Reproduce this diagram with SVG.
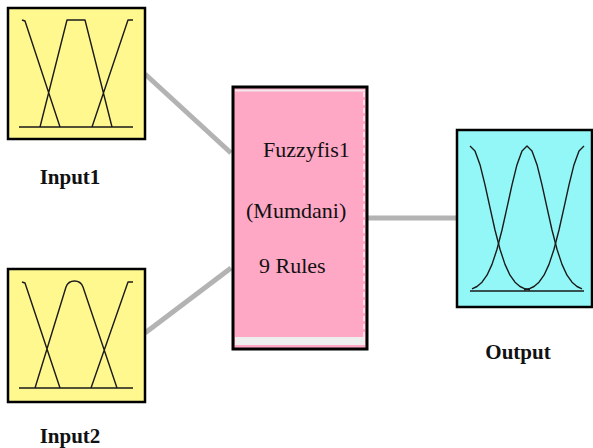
<svg xmlns="http://www.w3.org/2000/svg" width="593" height="448" viewBox="0 0 593 448">
<style>
.box{stroke:#000;stroke-width:2.5}
.mf{fill:none;stroke:#1a1a1a;stroke-width:1.4;stroke-linejoin:round}
.lbl{font-family:"Liberation Serif",serif;font-weight:bold;font-size:21px;fill:#111;text-anchor:middle}
.txt{font-family:"Liberation Serif",serif;font-size:22px;fill:#111}
.conn{stroke:#b3b3b3;stroke-width:5;fill:none}
</style>
<rect width="593" height="448" fill="#fff"/>
<g id="connectors">
<line class="conn" x1="145" y1="74" x2="231" y2="153"/>
<line class="conn" x1="145" y1="333" x2="231" y2="268"/>
<line class="conn" x1="368" y1="218" x2="457" y2="218"/>
</g>
<g id="input1">
<rect class="box" x="8" y="8" width="137" height="131" fill="#fff88f"/>
<path class="mf" d="M19,127 H133 M22,20 L25,21 L60,127 M40,127 L67,20 L85,20 L112,127 M92,127 L128,20 L133,20"/>
<text class="lbl" x="70" y="184">Input1</text>
</g>
<g id="input2">
<rect class="box" x="8" y="269" width="137" height="133" fill="#fff88f"/>
<path class="mf" d="M19,388 H133 M22,282 L25,283 L60,388 M35,388 L66,287 C69,279 80,279 83,287 L117,388 M91,388 L128,282 L133,282"/>
<text class="lbl" x="70" y="443">Input2</text>
</g>
<g id="fuzzyfis1">
<rect x="233" y="87" width="134" height="262" fill="#ffa8c6" stroke="#000" stroke-width="3"/>
<line x1="235" y1="90.5" x2="365" y2="90.5" stroke="#f2e6ea" stroke-width="2"/>
<rect x="235" y="337" width="130" height="8" fill="#eeeeee"/>
<line x1="364" y1="92" x2="364" y2="337" stroke="#ffffff" stroke-width="1.2" stroke-dasharray="5 3"/>
<text class="txt" x="263" y="157">Fuzzyfis1</text>
<text class="txt" x="246" y="218">(Mumdani)</text>
<text class="txt" x="259" y="273">9 Rules</text>
</g>
<g id="output">
<rect class="box" x="457" y="130" width="135" height="177" fill="#94f7f7"/>
<path class="mf" d="M470,291 H584"/>
<polyline class="mf" points="470,146 475,151 480,164.7 485,184.8 490,207.7 495,230 500,249.3 505,264.4 510,275.2 515,282.2 520,286.5 525,288.8 530,290"/>
<polyline class="mf" points="472,288.8 477,286.5 482,282.2 487,275.2 492,264.4 497,249.3 502,230 507,207.7 512,184.8 517,164.7 522,151 527,146 532,151 537,164.7 542,184.8 547,207.7 552,230 557,249.3 562,264.4 567,275.2 572,282.2 577,286.5 582,288.8"/>
<polyline class="mf" points="584,146 579,151 574,164.7 569,184.8 564,207.7 559,230 554,249.3 549,264.4 544,275.2 539,282.2 534,286.5 529,288.8 524,290"/>
<text class="lbl" x="518" y="359">Output</text>
</g>
</svg>
